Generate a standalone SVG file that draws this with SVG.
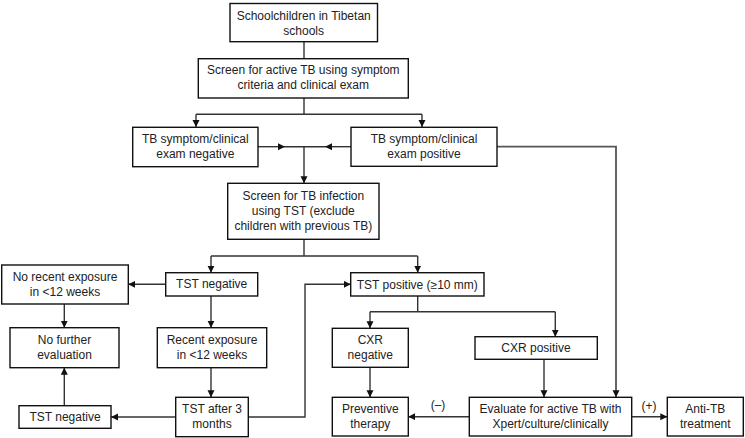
<svg xmlns="http://www.w3.org/2000/svg" width="745" height="438" viewBox="0 0 745 438">
<style>
.box{fill:#fff;stroke:#111;stroke-width:1.4}
.t{font-family:"Liberation Sans",Arial,sans-serif;font-size:12px;fill:#222;text-anchor:middle}
.c{fill:none;stroke:#333;stroke-width:1.4}
.g{stroke:#555;stroke-width:1.8}
</style>
<defs>
<marker id="ah" markerUnits="userSpaceOnUse" markerWidth="8" markerHeight="8" refX="7" refY="3.5" orient="auto">
<path d="M0,0 L7,3.5 L0,7 z" fill="#111"/>
</marker>
</defs>
<rect width="745" height="438" fill="#fff"/>
<g id="connectors">
<path class="c" d="M304,41.7 V58.7"/>
<path class="c" d="M304,98 V114.3 M196,114.3 H422"/>
<path class="c" d="M196,114.3 V127" marker-end="url(#ah)"/>
<path class="c" d="M422,114.3 V127" marker-end="url(#ah)"/>
<path class="c" d="M258,146.7 H285" marker-end="url(#ah)"/>
<path class="c" d="M351,146.7 H325" marker-end="url(#ah)"/>
<path class="c" d="M285,146.7 H325"/>
<path class="c" d="M304,146.7 V183.3" marker-end="url(#ah)"/>
<path class="c g" d="M497,146.7 H616 V397.3" marker-end="url(#ah)"/>
<path class="c" d="M304,239.3 V256 M211,256 H417.7"/>
<path class="c" d="M211,256 V272.7" marker-end="url(#ah)"/>
<path class="c" d="M417.7,256 V272.7" marker-end="url(#ah)"/>
<path class="c" d="M165.7,284.3 H128.3" marker-end="url(#ah)"/>
<path class="c" d="M64.3,304 V327.7" marker-end="url(#ah)"/>
<path class="c" d="M211,296 V327.7" marker-end="url(#ah)"/>
<path class="c" d="M211,367.7 V397.3" marker-end="url(#ah)"/>
<path class="c" d="M175.7,417 H111" marker-end="url(#ah)"/>
<path class="c" d="M64.3,405.7 V367.7" marker-end="url(#ah)"/>
<path class="c" d="M248.3,417 H305 V284.3 H350.7" marker-end="url(#ah)"/>
<path class="c" d="M417.7,296 V311.7 M370,311.7 H555.3"/>
<path class="c" d="M370,311.7 V328.3" marker-end="url(#ah)"/>
<path class="c" d="M555.3,311.7 V336.7" marker-end="url(#ah)"/>
<path class="c" d="M370,367.3 V397.3" marker-end="url(#ah)"/>
<path class="c" d="M544,359.3 V397.3" marker-end="url(#ah)"/>
<path class="c" d="M469.3,416.7 H408.3" marker-end="url(#ah)"/>
<path class="c" d="M631.7,416.7 H667.3" marker-end="url(#ah)"/>
<text class="t" x="438" y="409">(–)</text>
<text class="t" x="649" y="410">(+)</text>
</g>
<g id="n1"><rect class="box" x="230" y="3.5" width="147.5" height="38.2"/>
<text class="t" x="303.7" y="20">Schoolchildren in Tibetan</text><text class="t" x="303.7" y="35.3">schools</text></g>
<g id="n2"><rect class="box" x="198.3" y="58.7" width="210" height="39.3"/>
<text class="t" x="303.3" y="74.3">Screen for active TB using symptom</text><text class="t" x="303.3" y="88.5">criteria and clinical exam</text></g>
<g id="n3"><rect class="box" x="132.7" y="127.3" width="125.3" height="39.4"/>
<text class="t" x="195.3" y="142.6">TB symptom/clinical</text><text class="t" x="195.3" y="158.2">exam negative</text></g>
<g id="n4"><rect class="box" x="351" y="127.3" width="146" height="39"/>
<text class="t" x="424" y="142.6">TB symptom/clinical</text><text class="t" x="424" y="158.2">exam positive</text></g>
<g id="n5"><rect class="box" x="227.7" y="183.3" width="151.3" height="56"/>
<text class="t" x="303.3" y="200">Screen for TB infection</text><text class="t" x="303.3" y="215">using TST (exclude</text><text class="t" x="303.3" y="230">children with previous TB)</text></g>
<g id="n6"><rect class="box" x="165.7" y="272.7" width="92" height="23.3"/>
<text class="t" x="211.7" y="288.3">TST negative</text></g>
<g id="n7"><rect class="box" x="1.7" y="265" width="126.6" height="39"/>
<text class="t" x="65" y="281">No recent exposure</text><text class="t" x="65" y="296">in &lt;12 weeks</text></g>
<g id="n8"><rect class="box" x="10" y="327.7" width="109" height="40"/>
<text class="t" x="64.5" y="344.3">No further</text><text class="t" x="64.5" y="359.3">evaluation</text></g>
<g id="n9"><rect class="box" x="157.3" y="327.7" width="109.4" height="40"/>
<text class="t" x="212" y="344.3">Recent exposure</text><text class="t" x="212" y="359.3">in &lt;12 weeks</text></g>
<g id="n10"><rect class="box" x="175.7" y="397.3" width="72.6" height="39.4"/>
<text class="t" x="212" y="412.6">TST after 3</text><text class="t" x="212" y="427.6">months</text></g>
<g id="n11"><rect class="box" x="19" y="405.7" width="92" height="22.6"/>
<text class="t" x="65" y="421">TST negative</text></g>
<g id="n12"><rect class="box" x="350.7" y="272.7" width="133.3" height="23.3"/>
<text class="t" x="417.3" y="288.6">TST positive (≥10 mm)</text></g>
<g id="n13"><rect class="box" x="332.3" y="328.3" width="76" height="39"/>
<text class="t" x="370.3" y="344.3">CXR</text><text class="t" x="370.3" y="359.3">negative</text></g>
<g id="n14"><rect class="box" x="475" y="336.7" width="122.3" height="22.6"/>
<text class="t" x="536" y="351.6">CXR positive</text></g>
<g id="n15"><rect class="box" x="332.3" y="397.3" width="76" height="38.7"/>
<text class="t" x="370.3" y="412.6">Preventive</text><text class="t" x="370.3" y="427.6">therapy</text></g>
<g id="n16"><rect class="box" x="469.3" y="397.3" width="162.4" height="38.7"/>
<text class="t" x="550.5" y="412.6">Evaluate for active TB with</text><text class="t" x="550.5" y="427.6">Xpert/culture/clinically</text></g>
<g id="n17"><rect class="box" x="667.3" y="397.3" width="76" height="38.7"/>
<text class="t" x="705.3" y="412.6">Anti-TB</text><text class="t" x="705.3" y="427.6">treatment</text></g>
</svg>
